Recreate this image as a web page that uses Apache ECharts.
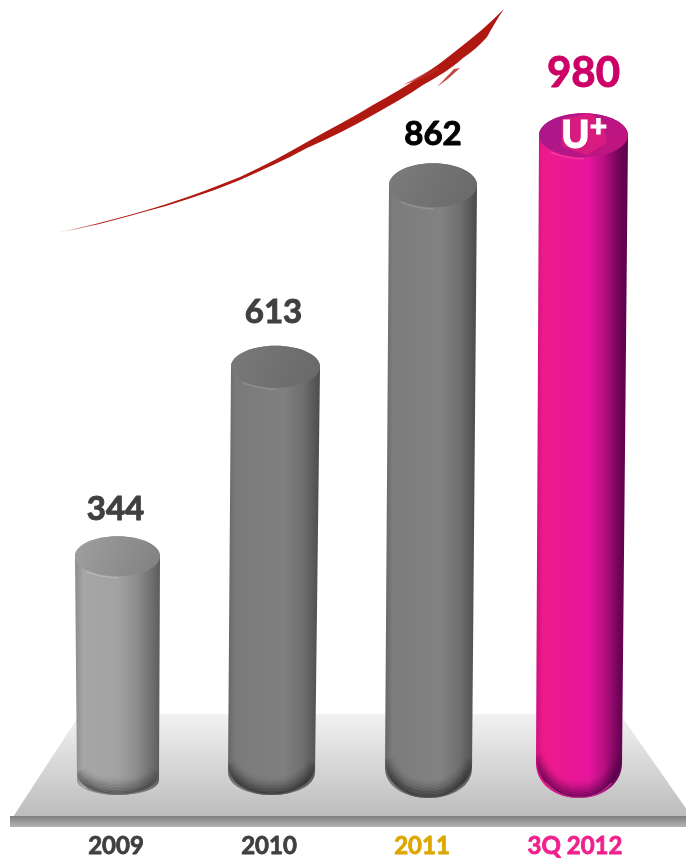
<!DOCTYPE html>
<html>
<head>
<meta charset="utf-8">
<style>html,body{margin:0;padding:0;background:#fff}#c{width:686px;height:860px}</style>
<script src="https://cdn.jsdelivr.net/npm/echarts@6/dist/echarts.min.js"></script>
</head>
<body>
<div id="c"></div>
<script>
const categories = ['2009', '2010', '2011', '3Q 2012'];
const values = [344, 613, 862, 980];
// The source picture is not drawn to scale: these are the column heights as pictured, in axis units.
const columnHeights = [353, 613, 862, 930];

const categoryColors = ['#3f3f3f', '#3f3f3f', '#dda600', '#f0218c'];
const valueColors = ['#404040', '#404040', '#000000', '#cc0066'];
const valueFontSizes = [33, 33, 33, 42];
const valueGaps = [27, 33, 29, 40];
const labelNudge = [-2, -2, 0, 0];
const topShift = [1.5, 6.5, 11, 8.5];
const baseShift = [2, 2.5, 6.5, 4];
const topRx = [42.5, 44.5, 44, 44.5];
const baseRx = [41, 43.5, 43.5, 43];
const topRy = [20, 21, 22, 22];
const baseDrop = [0, 0, 3, 3];
const shoulderRise = [15, 23, 30, 35];
const bodyStops = [
  [[0,'#8c8c8c'],[0.1,'#a6a6a6'],[0.5,'#a2a2a2'],[0.72,'#8e8e8e'],[0.92,'#6c6c6c'],[1,'#5c5c5c']],
  [[0,'#666666'],[0.08,'#7a7a7a'],[0.6,'#808080'],[0.82,'#6e6e6e'],[1,'#4c4c4c']],
  [[0,'#666666'],[0.08,'#7c7c7c'],[0.6,'#828282'],[0.82,'#6e6e6e'],[1,'#4a4a4a']],
  [[0,'#d0107e'],[0.08,'#ee1a8c'],[0.58,'#e6159c'],[0.74,'#b80f80'],[0.9,'#6e0458'],[1,'#5c0048']]
];
const capStops = [
  ['#a0a0a0', '#808080'],
  ['#7a7a7a', '#686868'],
  ['#7c7c7c', '#696969'],
  ['#a8188c', '#c4147e']
];
const shadeRgb = ['60,60,60', '35,35,35', '35,35,35', '70,0,65'];
const edgeColors = ['rgba(120,120,120,0.7)', 'rgba(95,95,95,0.7)', 'rgba(95,95,95,0.7)', 'rgba(205,50,150,0.85)'];
const highlightColors = ['rgba(225,225,225,0.3)', 'rgba(190,190,190,0.28)', 'rgba(190,190,190,0.28)', 'rgba(255,120,170,0.35)'];
const swooshPath = 'M55 233 C85 227 112 220 140 212 C175 202 208 190 240 177 C264 166 286 154 307 142 C330 129 352 118 373 105 C391 95 406 86 423 75 C435 67 446 59 457 50 C474 37 490 23 504 9 C497 19 492 28 487 37 C480 45 472 52 463 58 C451 69 437 77 423 85 C407 96 390 105 373 115 C352 127 330 138 307 148 C285 160 262 170 240 180 C208 193 175 204 140 213 C112 221 85 228 55 233 Z';

function ellipseTop(cx, cy, rx, ry) {
  const k = 0.5523;
  return 'C ' + (cx + rx) + ' ' + (cy - ry * k) + ' ' + (cx + rx * k) + ' ' + (cy - ry) + ' ' + cx + ' ' + (cy - ry) +
    ' C ' + (cx - rx * k) + ' ' + (cy - ry) + ' ' + (cx - rx) + ' ' + (cy - ry * k) + ' ' + (cx - rx) + ' ' + cy;
}

function bottomCurve(bx, rx, sh, rise, bottom, lift) {
  return 'C ' + (bx - rx) + ' ' + (sh + rise * 0.58) + ' ' + (bx - rx * 0.58) + ' ' + bottom + ' ' + bx + ' ' + bottom +
    ' C ' + (bx + rx * 0.58) + ' ' + bottom + ' ' + (bx + rx) + ' ' + (sh + rise * 0.58) + ' ' + (bx + rx) + ' ' + sh;
}

function renderColumn(params, api) {
  const i = api.value(0);
  const top = api.coord([i, api.value(1)]);
  const base = api.coord([i, 0]);
  const tx = top[0] + topShift[i], bx = base[0] + baseShift[i];
  const trx = topRx[i], brx = baseRx[i], ry = topRy[i];
  const cy = top[1] + ry;
  const bottom = base[1] + baseDrop[i];
  const sh = bottom - shoulderRise[i];
  const rise = shoulderRise[i];
  const body =
    'M ' + (tx - trx) + ' ' + cy +
    ' L ' + (bx - brx) + ' ' + sh + ' ' + bottomCurve(bx, brx, sh, rise, bottom) +
    ' L ' + (tx + trx) + ' ' + cy + ' ' + ellipseTop(tx, cy, trx, ry) + ' Z';
  const k = 0.5523;
  const cap =
    'M ' + (tx - trx) + ' ' + cy + ' ' + 'C ' + (tx - trx) + ' ' + (cy + ry * k) + ' ' + (tx - trx * k) + ' ' + (cy + ry) + ' ' + tx + ' ' + (cy + ry) +
    ' C ' + (tx + trx * k) + ' ' + (cy + ry) + ' ' + (tx + trx) + ' ' + (cy + ry * k) + ' ' + (tx + trx) + ' ' + cy + ' ' +
    ellipseTop(tx, cy, trx, ry) + ' Z';
  const glow =
    'M ' + (tx - trx * 0.72) + ' ' + (cy + ry * 0.78) + ' ' + 'C ' + (tx - trx * 0.5) + ' ' + (cy + ry * 0.95) + ' ' + (tx - trx * 0.2) + ' ' + (cy + ry + 1.5) + ' ' + tx + ' ' + (cy + ry + 1.5);
  const toStops = function (list) { return list.map(function (s) { return { offset: s[0], color: s[1] }; }); };
  const children = [
    { type: 'path', shape: { pathData: body }, style: {
        fill: { type: 'linear', x: 0, y: 0, x2: 1, y2: 0, colorStops: toStops(bodyStops[i]) } } }
  ];
  // Soft inner shadow that follows the rounded foot: nested curves, fading inwards and upwards.
  const layers = 12;
  for (let j = 0; j < layers; j++) {
    const inset = 1 + j * 1.5;
    const alpha = 0.62 * Math.pow(1 - j / layers, 1.6);
    const rx = brx - inset * 0.6, b = bottom - inset, s = sh - 8 - inset * 0.3;
    children.push({ type: 'path',
      shape: { pathData: 'M ' + (bx - rx) + ' ' + s + ' ' + bottomCurve(bx, rx, s, rise + 8 - inset * 0.7, b) },
      style: { fill: 'none', lineWidth: 2,
        stroke: { type: 'linear', x: 0, y: 0, x2: 0, y2: 1, colorStops: [
          { offset: 0, color: 'rgba(' + shadeRgb[i] + ',0)' },
          { offset: 0.6, color: 'rgba(' + shadeRgb[i] + ',' + alpha + ')' },
          { offset: 1, color: 'rgba(' + shadeRgb[i] + ',' + alpha + ')' } ] } } });
  }
  children.push(
    { type: 'path', shape: { pathData: 'M ' + (bx - brx * 0.75) + ' ' + (bottom - rise * 0.42) + ' C ' + (bx - brx * 0.45) + ' ' + (bottom - 1) + ' ' + (bx - brx * 0.2) + ' ' + (bottom - 0.6) + ' ' + bx + ' ' + (bottom - 0.6) +
        ' C ' + (bx + brx * 0.2) + ' ' + (bottom - 0.6) + ' ' + (bx + brx * 0.45) + ' ' + (bottom - 1) + ' ' + (bx + brx * 0.75) + ' ' + (bottom - rise * 0.42) },
      style: { fill: 'none', stroke: edgeColors[i], lineWidth: 1.2, lineCap: 'round' } },
    { type: 'path', shape: { pathData: cap }, style: {
        fill: { type: 'linear', x: 0, y: 0, x2: 1, y2: 1, colorStops: [
          { offset: 0, color: capStops[i][0] }, { offset: 1, color: capStops[i][1] } ] } } },
    { type: 'path', shape: { pathData: glow }, style: { fill: 'none', stroke: highlightColors[i], lineWidth: 1.5, lineCap: 'round' } },
    { type: 'text', style: {
        x: tx + labelNudge[i], y: top[1] - valueGaps[i], text: String(values[i]), align: 'center', verticalAlign: 'middle',
        fontFamily: 'Lato', fontWeight: 'bold', fontSize: valueFontSizes[i], fill: valueColors[i], stroke: valueColors[i], lineWidth: 1 } }
  );
  if (i === 0) {
    children.push({ type: 'path', shape: { pathData: swooshPath }, style: {
      fill: { type: 'linear', x: 0, y: 0, x2: 1, y2: 0, colorStops: [
        { offset: 0, color: 'rgba(176,24,18,0.2)' }, { offset: 0.1, color: '#b01812' }, { offset: 1, color: '#b01812' } ] } } });
  }
  if (i === 3) {
    children.push(
      { type: 'polygon', shape: { points: [[tx - 22, top[1] + 6], [tx + 6, top[1]], [tx + 20, top[1] + 9], [tx + 23, top[1] + 30], [tx + 3, top[1] + 42], [tx - 22, top[1] + 33]] },
        style: { fill: '#d81b7f' } },
      { type: 'text', style: { x: tx - 8, y: top[1] + 22, text: 'U', align: 'center', verticalAlign: 'middle',
          fontFamily: 'Lato', fontWeight: 900, fontSize: 38, fill: '#ffffff', stroke: '#ffffff', lineWidth: 1 } },
      { type: 'text', style: { x: tx + 15, y: top[1] + 14, text: '+', align: 'center', verticalAlign: 'middle',
          fontFamily: 'Lato', fontWeight: 900, fontSize: 30, fill: '#ffffff', stroke: '#ffffff', lineWidth: 1 } }
    );
  }
  return { type: 'group', children: children };
}

const chart = echarts.init(document.getElementById('c'), null, { renderer: 'canvas' });
chart.setOption({
  animation: false,
  backgroundColor: '#ffffff',
  grid: { left: 39.5, width: 612, top: 62, height: 733 },
  xAxis: {
    type: 'category',
    data: categories.map(function (c, i) {
      return { value: c, textStyle: { color: categoryColors[i], textBorderColor: categoryColors[i], textBorderWidth: 0.8 } };
    }),
    axisLine: { show: false }, axisTick: { show: false },
    axisLabel: { margin: 39, fontFamily: 'Lato', fontWeight: 'bold', fontSize: 24, interval: 0 }
  },
  yAxis: { type: 'value', min: 0, max: 1000, show: false, splitLine: { show: false } },
  graphic: [
    { type: 'polygon', z: 0, shape: { points: [[80, 714], [620, 714], [692, 817], [13, 817]] },
      style: { fill: { type: 'linear', x: 0, y: 0, x2: 0, y2: 1, colorStops: [
        { offset: 0, color: '#f2f2f2' }, { offset: 1, color: '#bcbcbc' } ] } } },
    { type: 'rect', z: 0, shape: { x: 10, y: 816, width: 676, height: 11 },
      style: { fill: { type: 'linear', x: 0, y: 0, x2: 0, y2: 1, colorStops: [
        { offset: 0, color: '#7e7e7e' }, { offset: 1, color: '#b4b4b4' } ] } } },
    { type: 'polygon', z: 5, shape: { points: [[403, 85], [436, 67], [440, 70], [424, 78]] }, style: { fill: 'rgba(190,40,35,0.7)' } },
    { type: 'polygon', z: 5, shape: { points: [[437, 87], [454, 69], [460, 68], [449, 78]] }, style: { fill: 'rgba(190,40,35,0.85)' } }
  ],
  series: [{
    type: 'custom',
    renderItem: renderColumn,
    encode: { x: 0, y: 1 },
    clip: false,
    data: columnHeights.map(function (h, i) { return [i, h]; })
  }]
});
</script>
</body>
</html>
